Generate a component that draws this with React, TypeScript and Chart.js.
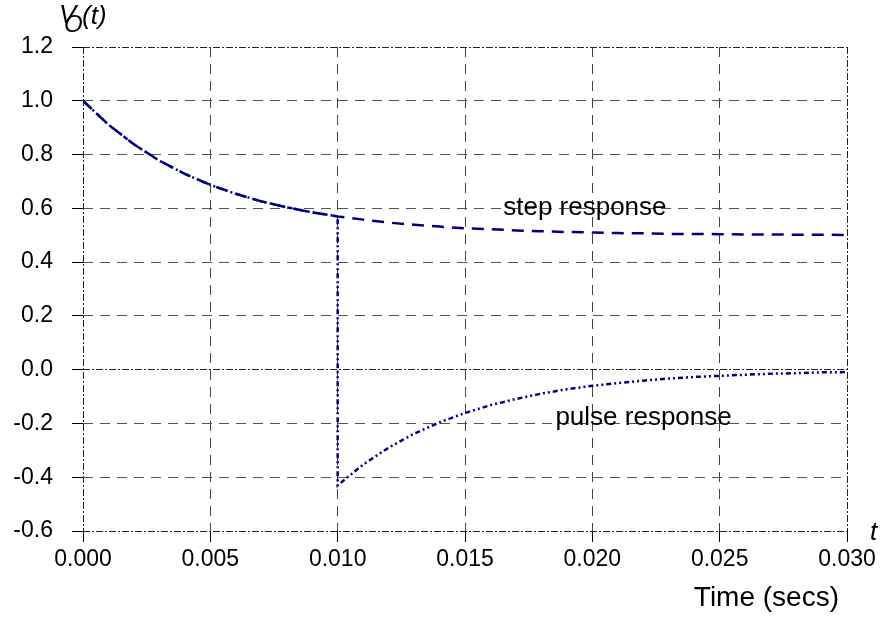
import React, { useEffect, useRef } from "react";
import { Chart, registerables } from "chart.js";

Chart.register(...registerables);

// ---- data ----
const timeSecs = [
  0.000, 0.001, 0.002, 0.003, 0.004, 0.005, 0.006, 0.007, 0.008, 0.009, 0.010,
  0.011, 0.012, 0.013, 0.014, 0.015, 0.016, 0.017, 0.018, 0.019, 0.020,
  0.021, 0.022, 0.023, 0.024, 0.025, 0.026, 0.027, 0.028, 0.029, 0.030,
];
const stepResponse = [
  1.000, 0.911, 0.838, 0.777, 0.728, 0.687, 0.654, 0.626, 0.604, 0.585, 0.570,
  0.558, 0.547, 0.539, 0.532, 0.526, 0.522, 0.518, 0.515, 0.512, 0.510,
  0.508, 0.507, 0.505, 0.505, 0.504, 0.503, 0.503, 0.502, 0.502, 0.501,
];
const pulseTime = [
  0.000, 0.001, 0.002, 0.003, 0.004, 0.005, 0.006, 0.007, 0.008, 0.009, 0.010,
  0.010, 0.011, 0.012, 0.013, 0.014, 0.015, 0.016, 0.017, 0.018, 0.019, 0.020,
  0.021, 0.022, 0.023, 0.024, 0.025, 0.026, 0.027, 0.028, 0.029, 0.030,
];
const pulseResponse = [
  1.000, 0.911, 0.838, 0.777, 0.728, 0.687, 0.654, 0.626, 0.604, 0.585, 0.570,
  -0.430, -0.353, -0.290, -0.238, -0.196, -0.161, -0.132, -0.109, -0.089, -0.073, -0.060,
  -0.050, -0.041, -0.033, -0.027, -0.023, -0.019, -0.015, -0.013, -0.010, -0.009,
];
const seriesNames = ["step response", "pulse response"];
const xAxisTitle = "Time (secs)";

const FONT = "'Liberation Sans', Arial, Helvetica, sans-serif";
const near = (a: number, b: number) => Math.abs(a - b) < 1e-9;
const yEdge = (v: number) => near(v, -0.6) || near(v, 0) || near(v, 1.2);
const xEdge = (v: number) => near(v, 0) || near(v, 0.03);

const textPlugin = {
  id: "textPlugin",
  afterDraw(chart: any) {
    const { ctx, scales } = chart;
    const x = scales.x;
    const y = scales.y;
    ctx.save();
    ctx.fillStyle = "#000";
    ctx.textAlign = "left";
    ctx.textBaseline = "alphabetic";
    ctx.font = `26px ${FONT}`;
    ctx.fillText(seriesNames[0], x.getPixelForValue(0.0165), y.getPixelForValue(0.575));
    ctx.fillText(seriesNames[1], x.getPixelForValue(0.01855), y.getPixelForValue(-0.206));
    // x axis title, right aligned
    ctx.textAlign = "right";
    ctx.font = `28px ${FONT}`;
    ctx.fillText(xAxisTitle, x.right - 8, 606);
    // y axis label V_O(t)
    ctx.textAlign = "left";
    ctx.font = `italic 26px ${FONT}`;
    ctx.fillText("V", 59, 23);
    ctx.font = `italic 24px ${FONT}`;
    ctx.fillText("O", 64, 32);
    ctx.font = `italic 26px ${FONT}`;
    ctx.fillText("(t)", 82, 24);
    // t at end of the time axis
    ctx.fillText("t", x.right + 23, y.bottom + 9);
    ctx.restore();
  },
};

export default function App() {
  const ref = useRef<HTMLCanvasElement>(null);
  useEffect(() => {
    if (!ref.current) return;
    const chart = new Chart(ref.current, {
      type: "line",
      data: {
        datasets: [
          {
            label: seriesNames[0],
            data: timeSecs.map((t, i) => ({ x: t, y: stepResponse[i] })),
            borderColor: "#000080",
            borderWidth: 2.5,
            borderDash: [12, 8],
            pointRadius: 0,
            fill: false,
          },
          {
            label: seriesNames[1],
            data: pulseTime.map((t, i) => ({ x: t, y: pulseResponse[i] })),
            borderColor: "#000080",
            borderWidth: 2.5,
            borderDash: [5, 3, 2, 3, 2, 3],
            pointRadius: 0,
            fill: false,
          },
        ],
      },
      options: {
        animation: false,
        responsive: false,
        devicePixelRatio: 1,
        layout: { padding: { top: 47, right: 34, left: 0, bottom: 0 } },
        plugins: { legend: { display: false }, tooltip: { enabled: false } },
        scales: {
          x: {
            type: "linear",
            min: 0,
            max: 0.03,
            afterFit: (s: any) => { s.height = 86; },
            ticks: {
              stepSize: 0.005,
              autoSkip: false,
              maxRotation: 0,
              padding: 4,
              color: "#000",
              font: { family: FONT, size: 23 },
              callback: (v: any) => Number(v).toFixed(3),
            },
            grid: {
              color: (c: any) => (c.tick && xEdge(c.tick.value) ? "#222" : "#444"),
              lineWidth: 1,
              tickLength: 11,
              tickColor: "#000",
              tickWidth: 1,
            },
            border: {
              display: false,
              dash: (c: any) => (c.tick && xEdge(c.tick.value) ? [7, 2, 2, 2] : [10, 7]),
            },
          },
          y: {
            type: "linear",
            min: -0.6,
            max: 1.2,
            afterFit: (s: any) => { s.width = 83; },
            ticks: {
              stepSize: 0.2,
              autoSkip: false,
              padding: 19,
              color: "#000",
              font: { family: FONT, size: 23 },
              callback: (v: any) => Number(v).toFixed(1),
            },
            grid: {
              color: (c: any) => (c.tick && yEdge(c.tick.value) ? "#222" : "#555"),
              lineWidth: 1,
              tickLength: 11,
              tickColor: "#000",
              tickWidth: 1,
            },
            border: {
              display: false,
              dash: (c: any) => (c.tick && yEdge(c.tick.value) ? [7, 2, 2, 2] : [10, 7]),
            },
          },
        },
      },
      plugins: [textPlugin],
    });
    return () => chart.destroy();
  }, []);
  return (
    <div style={{ position: "absolute", left: 0, top: 0, width: 881, height: 617, background: "#fff" }}>
      <canvas ref={ref} width={881} height={617} style={{ display: "block" }} />
    </div>
  );
}
